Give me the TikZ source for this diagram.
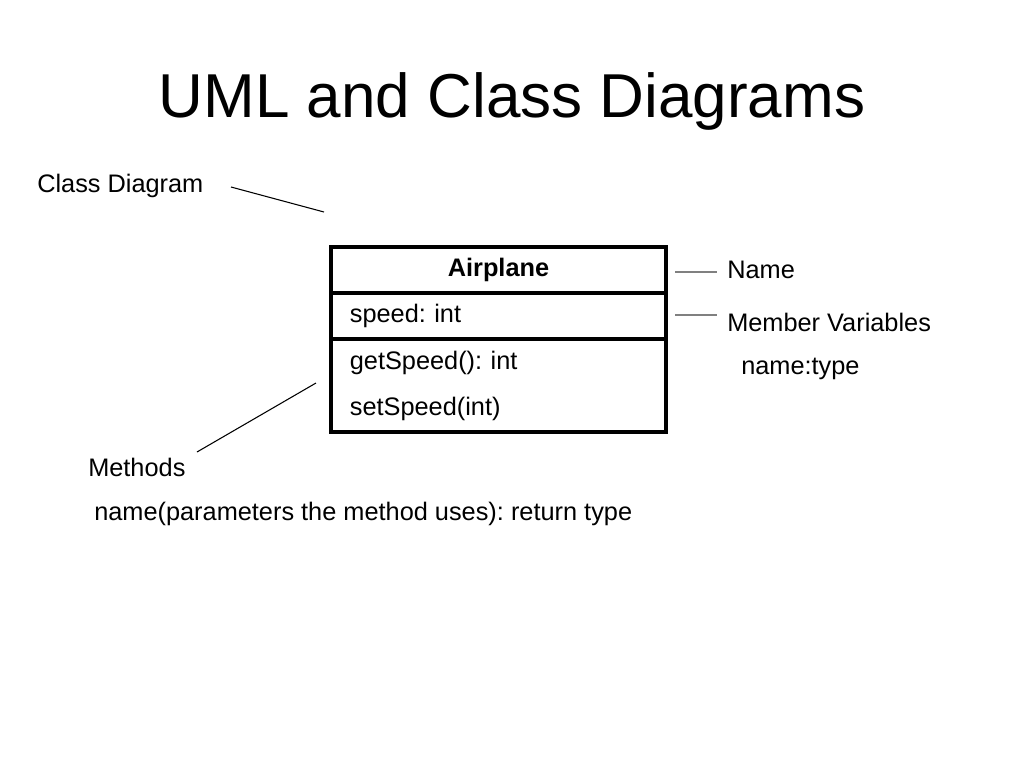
\documentclass[tikz,border=0pt]{standalone}
\usepackage{fontspec}
\setmainfont{Liberation Sans}
\usetikzlibrary{positioning}
\frenchspacing

\begin{document}
\begin{tikzpicture}[x=0.75pt,y=-0.75pt,
  every node/.style={font=\fontsize{19}{34.5}\selectfont},
  part/.style={draw,line width=3pt,outer sep=0pt,minimum width=251.25pt,text width=223pt,inner xsep=14.25pt,align=left},
  note/.style={anchor=west,inner sep=0pt},
  lead/.style={line width=0.8pt}]
\useasboundingbox (0,0) rectangle (1024,768);

\node (title) at (512,101) {\fontsize{46.5}{50}\selectfont UML and Class Diagrams};

% the class box
\node[part,align=center,minimum height=34.5pt] (head) at (498.5,270) {\bfseries Airplane};
\node[part,minimum height=34.5pt,below=0pt of head] (attrs) {speed: int};
\node[part,minimum height=69.75pt,below=0pt of attrs] (meths) {getSpeed(): int\\setSpeed(int)};

% notes
\node[note] (cdlbl) at (37,186) {Class Diagram};
\node[note] (namelbl) at (727,270) {Name};
\node[note] (varlbl) at (727,322) {Member Variables};
\node[note] (vartype) at (741,369) {name:type};
\node[note] (methlbl) at (88,467) {Methods};
\node[note] (methtype) at (94,514) {name(parameters the method uses): return type};

\coordinate (cdA) at (231,187);
\coordinate (cdB) at (324,212);
\coordinate (nameA) at (675,272);
\coordinate (nameB) at (717,272);
\coordinate (varA) at (675,315);
\coordinate (varB) at (717,315);
\coordinate (methA) at (197,452);
\coordinate (methB) at (316,383);

\draw[lead] (cdA) -- (cdB);
\draw[lead,gray] (nameA) -- (nameB);
\draw[lead,gray] (varA) -- (varB);
\draw[lead] (methA) -- (methB);
\end{tikzpicture}
\end{document}
